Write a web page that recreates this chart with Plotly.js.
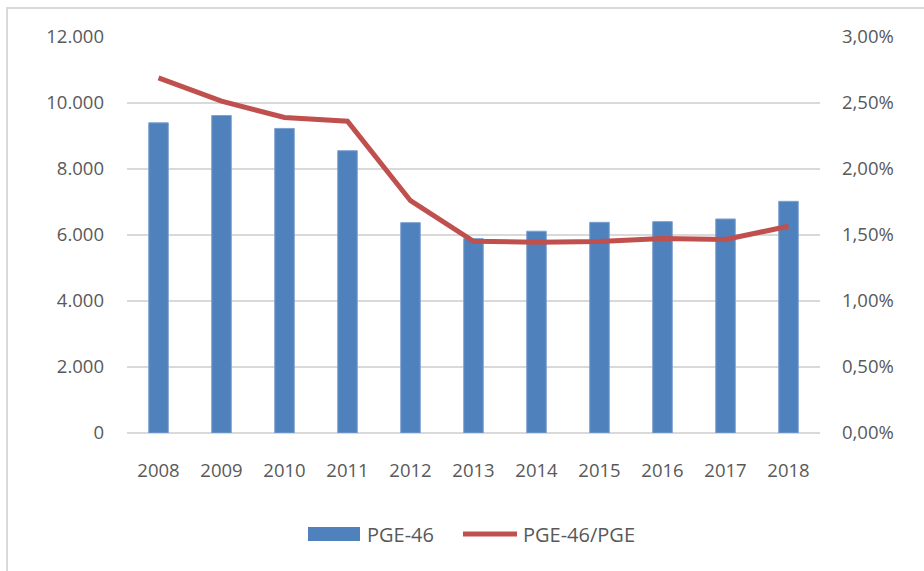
<!DOCTYPE html>
<html>
<head>
<meta charset="utf-8">
<script src="https://cdn.plot.ly/plotly-3.0.1.min.js"></script>
<style>
html,body{margin:0;padding:0;background:#fff;}
#wrap{position:relative;width:924px;height:571px;overflow:hidden;}
#chart{position:absolute;left:0;top:0;width:924px;height:571px;}
#frame{position:absolute;left:6px;top:7px;width:940px;height:590px;border:2px solid #d9d9d9;pointer-events:none;}
</style>
</head>
<body>
<div id="wrap"><div id="chart"></div><div id="frame"></div></div>
<script>
var years = ['2008','2009','2010','2011','2012','2013','2014','2015','2016','2017','2018'];
var pge46 = [9400, 9620, 9230, 8555, 6375, 5890, 6115, 6385, 6405, 6485, 7020];
var ratio = [0.0269, 0.02514, 0.0239, 0.02362, 0.0176, 0.01452, 0.01446, 0.0145, 0.01473, 0.01466, 0.01566];
var barName = 'PGE-46';
var lineName = 'PGE-46/PGE';

var barColor = '#4f81bd';
var lineColor = '#c0504d';
var font = {family: '"Open Sans", "Liberation Sans", sans-serif', size: 18.5, color: '#595959'};
var legFont = {family: '"Open Sans", "Liberation Sans", sans-serif', size: 20, color: '#595959'};

var traces = [
  {type: 'bar', x: years, y: pge46, name: barName, yaxis: 'y',
   marker: {color: barColor, line: {color: '#7da0d0', width: 1}}, hoverinfo: 'skip'},
  {type: 'scatter', mode: 'lines', x: years, y: ratio, name: lineName, yaxis: 'y2',
   line: {color: lineColor, width: 5}, hoverinfo: 'skip'}
];

// custom legend (paper coordinates relative to the plot area)
var legY = -0.2551;
var shapes = [
  {type: 'rect', xref: 'paper', yref: 'paper', x0: 0.2612, x1: 0.3362, y0: -0.2727, y1: -0.2374,
   fillcolor: barColor, line: {width: 0}},
  {type: 'line', xref: 'paper', yref: 'paper', x0: 0.4848, x1: 0.5628, y0: legY, y1: legY,
   line: {color: lineColor, width: 5}}
];
var annotations = [
  {xref: 'paper', yref: 'paper', x: 0.3435, y: legY, xanchor: 'left', yanchor: 'middle',
   text: barName, showarrow: false, font: legFont},
  {xref: 'paper', yref: 'paper', x: 0.5690, y: legY, xanchor: 'left', yanchor: 'middle',
   text: lineName, showarrow: false, font: legFont}
];

var layout = {
  width: 924, height: 571,
  margin: {l: 127, r: 104, t: 37, b: 138},
  paper_bgcolor: '#fff', plot_bgcolor: '#fff',
  separators: ',.',
  font: font,
  showlegend: false,
  bargap: 0.69,
  shapes: shapes,
  annotations: annotations,
  xaxis: {type: 'category', showgrid: false, showline: false, ticks: '',
          tickfont: font, ticklabelstandoff: 24},
  yaxis: {range: [0, 12000], dtick: 2000, tickformat: ',d', showgrid: true,
          gridcolor: '#d9d9d9', gridwidth: 1.5, zeroline: true, zerolinecolor: '#d9d9d9', zerolinewidth: 1.5,
          showline: false, ticks: '', tickfont: font, ticklabelstandoff: 22, fixedrange: true},
  yaxis2: {range: [0, 0.03], dtick: 0.005, tickformat: '.2%', overlaying: 'y', side: 'right',
           showgrid: false, zeroline: false, showline: false, ticks: '', tickfont: font,
           ticklabelstandoff: 21, fixedrange: true}
};

Plotly.newPlot('chart', traces, layout, {displayModeBar: false, staticPlot: true});
</script>
</body>
</html>
